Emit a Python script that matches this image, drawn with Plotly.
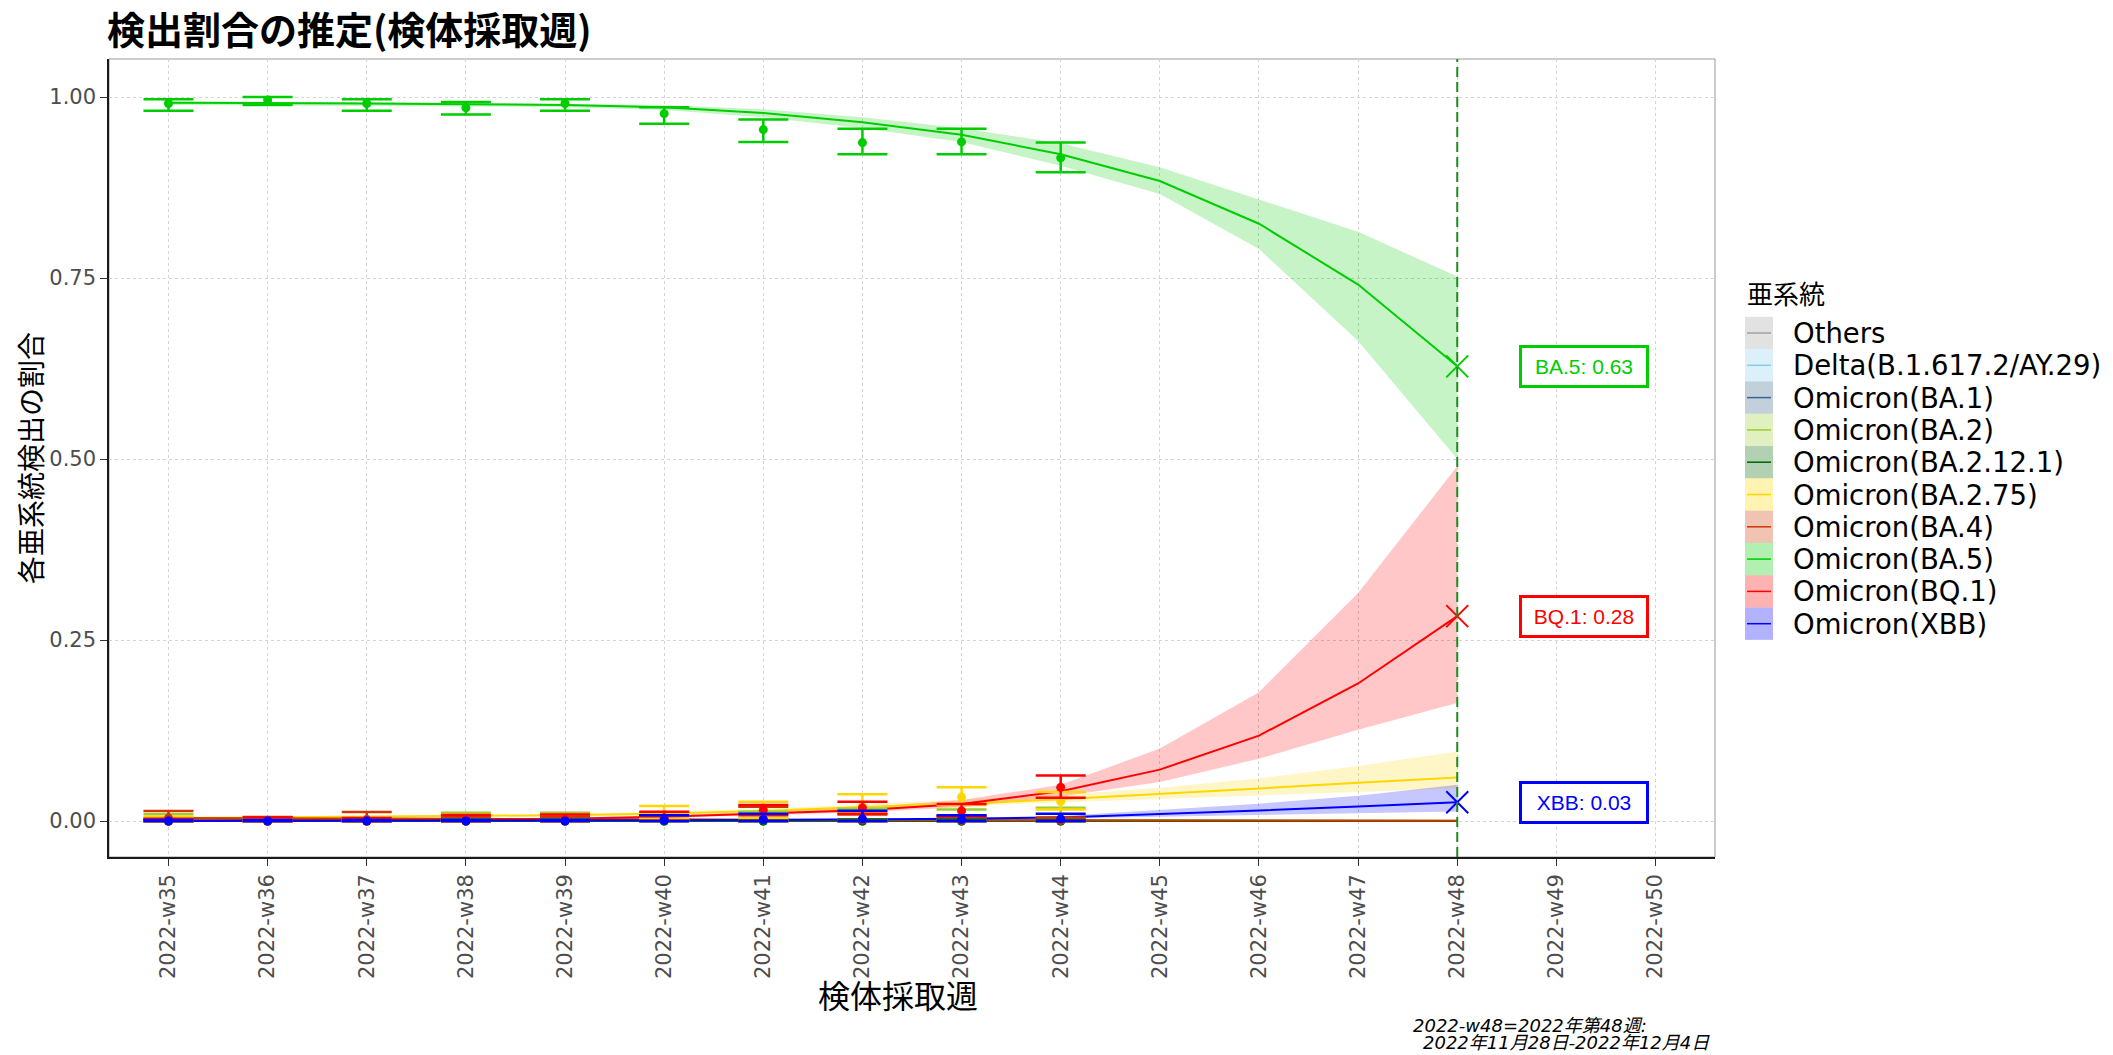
import plotly.graph_objects as go

# ---------------- data ----------------
week_nums = [35, 36, 37, 38, 39, 40, 41, 42, 43, 44, 45, 46, 47, 48, 49, 50]
week_labels = ["2022-w35", "2022-w36", "2022-w37", "2022-w38", "2022-w39", "2022-w40",
               "2022-w41", "2022-w42", "2022-w43", "2022-w44", "2022-w45", "2022-w46",
               "2022-w47", "2022-w48", "2022-w49", "2022-w50"]
fit_weeks = [35, 36, 37, 38, 39, 40, 41, 42, 43, 44, 45, 46, 47, 48]
obs_weeks = [35, 36, 37, 38, 39, 40, 41, 42, 43, 44]
current_week = 48

series_names = ["Others", "Delta(B.1.617.2/AY.29)", "Omicron(BA.1)", "Omicron(BA.2)",
                "Omicron(BA.2.12.1)", "Omicron(BA.2.75)", "Omicron(BA.4)", "Omicron(BA.5)",
                "Omicron(BQ.1)", "Omicron(XBB)"]
series_colors = ["#A0A0A0", "#87CEEB", "#36648B", "#9ACD32", "#006400",
                 "#FFD700", "#CD3700", "#00CD00", "#FF0000", "#0000FF"]

# fitted proportion (line) and its interval (ribbon), weeks 35..48
fit_others = [0.001, 0.001, 0.001, 0.0008, 0.0006, 0.0005, 0.0004, 0.0003, 0.0002, 0.0002, 0.0001, 0.0001, 0.0001, 0.0001]
lo_others = [0.0005, 0.0005, 0.0005, 0.0004, 0.0003, 0.0002, 0.0002, 0.0001, 0.0001, 0.0001, 0.0, 0.0, 0.0, 0.0]
hi_others = [0.0015, 0.0015, 0.0015, 0.0012, 0.001, 0.0009, 0.0008, 0.0006, 0.0005, 0.0005, 0.0004, 0.0004, 0.0004, 0.0004]

fit_delta = [0.0, 0.0, 0.0, 0.0, 0.0, 0.0, 0.0, 0.0, 0.0, 0.0, 0.0, 0.0, 0.0, 0.0]
lo_delta = [0.0, 0.0, 0.0, 0.0, 0.0, 0.0, 0.0, 0.0, 0.0, 0.0, 0.0, 0.0, 0.0, 0.0]
hi_delta = [0.0002, 0.0002, 0.0002, 0.0002, 0.0002, 0.0002, 0.0002, 0.0002, 0.0002, 0.0002, 0.0002, 0.0002, 0.0002, 0.0002]

fit_ba1 = [0.0, 0.0, 0.0, 0.0, 0.0, 0.0, 0.0, 0.0, 0.0, 0.0, 0.0, 0.0, 0.0, 0.0]
lo_ba1 = [0.0, 0.0, 0.0, 0.0, 0.0, 0.0, 0.0, 0.0, 0.0, 0.0, 0.0, 0.0, 0.0, 0.0]
hi_ba1 = [0.0002, 0.0002, 0.0002, 0.0002, 0.0002, 0.0002, 0.0002, 0.0002, 0.0002, 0.0002, 0.0002, 0.0002, 0.0002, 0.0002]

fit_ba2 = [0.004, 0.0035, 0.003, 0.0028, 0.0025, 0.002, 0.0018, 0.0015, 0.0012, 0.001, 0.0008, 0.0006, 0.0005, 0.0004]
lo_ba2 = [0.003, 0.0026, 0.0022, 0.002, 0.0017, 0.0013, 0.0011, 0.0009, 0.0007, 0.0005, 0.0004, 0.0003, 0.0002, 0.0001]
hi_ba2 = [0.005, 0.0045, 0.004, 0.0037, 0.0034, 0.003, 0.0027, 0.0024, 0.0021, 0.0019, 0.0017, 0.0015, 0.0014, 0.0013]

fit_ba2121 = [0.0006, 0.0005, 0.0005, 0.0004, 0.0004, 0.0003, 0.0003, 0.0002, 0.0002, 0.0002, 0.0001, 0.0001, 0.0001, 0.0001]
lo_ba2121 = [0.0003, 0.0002, 0.0002, 0.0002, 0.0002, 0.0001, 0.0001, 0.0001, 0.0001, 0.0, 0.0, 0.0, 0.0, 0.0]
hi_ba2121 = [0.001, 0.0009, 0.0009, 0.0008, 0.0007, 0.0006, 0.0006, 0.0005, 0.0005, 0.0005, 0.0004, 0.0004, 0.0004, 0.0004]

fit_ba275 = [0.004, 0.005, 0.006, 0.007, 0.008, 0.0105, 0.014, 0.0195, 0.024, 0.030, 0.037, 0.045, 0.053, 0.060]
lo_ba275 = [0.003, 0.004, 0.0045, 0.0055, 0.0065, 0.008, 0.011, 0.016, 0.020, 0.025, 0.030, 0.035, 0.040, 0.045]
hi_ba275 = [0.005, 0.006, 0.0075, 0.0085, 0.010, 0.013, 0.017, 0.023, 0.029, 0.036, 0.046, 0.059, 0.076, 0.096]

fit_ba4 = [0.004, 0.0035, 0.003, 0.0027, 0.0024, 0.002, 0.0017, 0.0015, 0.0013, 0.001, 0.0008, 0.0006, 0.0005, 0.0004]
lo_ba4 = [0.003, 0.0026, 0.0022, 0.0019, 0.0016, 0.0013, 0.001, 0.0008, 0.0006, 0.0005, 0.0003, 0.0002, 0.0001, 0.0001]
hi_ba4 = [0.005, 0.0045, 0.004, 0.0036, 0.0033, 0.003, 0.0027, 0.0024, 0.0022, 0.002, 0.0018, 0.0016, 0.0015, 0.0014]

fit_ba5 = [0.992, 0.992, 0.991, 0.990, 0.989, 0.986, 0.978, 0.965, 0.948, 0.921, 0.884, 0.825, 0.741, 0.628]
lo_ba5 = [0.989, 0.989, 0.988, 0.987, 0.986, 0.982, 0.972, 0.957, 0.938, 0.905, 0.866, 0.790, 0.663, 0.500]
hi_ba5 = [0.994, 0.994, 0.993, 0.992, 0.991, 0.989, 0.983, 0.972, 0.957, 0.936, 0.903, 0.858, 0.814, 0.752]

fit_bq1 = [0.0003, 0.0005, 0.001, 0.002, 0.003, 0.006, 0.010, 0.015, 0.0235, 0.041, 0.071, 0.118, 0.190, 0.283]
lo_bq1 = [0.0001, 0.0002, 0.0005, 0.0012, 0.002, 0.0045, 0.008, 0.012, 0.019, 0.034, 0.054, 0.086, 0.126, 0.163]
hi_bq1 = [0.0006, 0.001, 0.0018, 0.003, 0.0045, 0.008, 0.0125, 0.019, 0.029, 0.050, 0.100, 0.178, 0.315, 0.490]

fit_xbb = [0.0001, 0.0001, 0.0001, 0.0002, 0.0003, 0.001, 0.0015, 0.002, 0.003, 0.005, 0.0095, 0.0145, 0.020, 0.026]
lo_xbb = [0.0, 0.0, 0.0, 0.0, 0.0001, 0.0005, 0.001, 0.0013, 0.002, 0.0035, 0.006, 0.009, 0.011, 0.013]
hi_xbb = [0.0003, 0.0003, 0.0004, 0.0005, 0.0007, 0.0015, 0.0022, 0.003, 0.0045, 0.007, 0.015, 0.024, 0.035, 0.050]

# observed proportion with interval, weeks 35..44
obs_others = [0.001, 0.0, 0.0, 0.0, 0.001, 0.0, 0.0, 0.0, 0.0, 0.0]
obs_lo_others = [0.0, 0.0, 0.0, 0.0, 0.0, 0.0, 0.0, 0.0, 0.0, 0.0]
obs_hi_others = [0.004, 0.003, 0.003, 0.003, 0.004, 0.002, 0.003, 0.002, 0.002, 0.002]

obs_delta = [0.0, 0.0, 0.0, 0.0, 0.0, 0.0, 0.0, 0.0, 0.0, 0.0]
obs_lo_delta = [0.0, 0.0, 0.0, 0.0, 0.0, 0.0, 0.0, 0.0, 0.0, 0.0]
obs_hi_delta = [0.001, 0.001, 0.001, 0.001, 0.001, 0.001, 0.001, 0.001, 0.001, 0.001]

obs_ba1 = [0.0, 0.0, 0.0, 0.0, 0.0, 0.0, 0.0, 0.0, 0.0, 0.0]
obs_lo_ba1 = [0.0, 0.0, 0.0, 0.0, 0.0, 0.0, 0.0, 0.0, 0.0, 0.0]
obs_hi_ba1 = [0.001, 0.001, 0.001, 0.001, 0.001, 0.001, 0.001, 0.001, 0.001, 0.001]

obs_ba2 = [0.003, 0.0, 0.0, 0.002, 0.002, 0.002, 0.003, 0.002, 0.002, 0.001]
obs_lo_ba2 = [0.0, 0.0, 0.0, 0.0, 0.0, 0.0, 0.0, 0.0, 0.0, 0.0]
obs_hi_ba2 = [0.0092, 0.004, 0.004, 0.0115, 0.0115, 0.008, 0.0129, 0.017, 0.016, 0.0184]

obs_ba2121 = [0.0, 0.0, 0.001, 0.0, 0.0, 0.0, 0.0, 0.0, 0.0, 0.0]
obs_lo_ba2121 = [0.0, 0.0, 0.0, 0.0, 0.0, 0.0, 0.0, 0.0, 0.0, 0.0]
obs_hi_ba2121 = [0.002, 0.002, 0.003, 0.002, 0.002, 0.002, 0.002, 0.002, 0.002, 0.002]

obs_ba275 = [0.002, 0.001, 0.001, 0.003, 0.003, 0.009, 0.010, 0.020, 0.033, 0.027]
obs_lo_ba275 = [0.0, 0.0, 0.0, 0.0, 0.0, 0.003, 0.004, 0.011, 0.022, 0.016]
obs_hi_ba275 = [0.006, 0.004, 0.004, 0.009, 0.009, 0.0207, 0.0267, 0.0368, 0.0465, 0.040]

obs_ba4 = [0.004, 0.001, 0.002, 0.001, 0.002, 0.002, 0.003, 0.002, 0.001, 0.001]
obs_lo_ba4 = [0.0, 0.0, 0.0, 0.0, 0.0, 0.0, 0.0, 0.0, 0.0, 0.0]
obs_hi_ba4 = [0.0138, 0.0055, 0.0124, 0.006, 0.006, 0.007, 0.0197, 0.009, 0.006, 0.005]

obs_ba5 = [0.991, 0.996, 0.991, 0.985, 0.991, 0.977, 0.955, 0.937, 0.938, 0.916]
obs_lo_ba5 = [0.981, 0.989, 0.981, 0.976, 0.981, 0.963, 0.938, 0.921, 0.921, 0.896]
obs_hi_ba5 = [0.997, 1.000, 0.997, 0.993, 0.997, 0.986, 0.969, 0.956, 0.956, 0.937]

obs_bq1 = [0.0, 0.0, 0.0, 0.002, 0.002, 0.004, 0.015, 0.018, 0.014, 0.0465]
obs_lo_bq1 = [0.0, 0.0, 0.0, 0.0, 0.0, 0.0005, 0.008, 0.010, 0.007, 0.032]
obs_hi_bq1 = [0.003, 0.005, 0.004, 0.0083, 0.009, 0.0129, 0.022, 0.0267, 0.0235, 0.063]

obs_xbb = [0.0, 0.0, 0.0, 0.0, 0.0, 0.001, 0.002, 0.003, 0.002, 0.003]
obs_lo_xbb = [0.0, 0.0, 0.0, 0.0, 0.0, 0.0, 0.0, 0.0, 0.0, 0.0]
obs_hi_xbb = [0.0015, 0.0015, 0.0015, 0.0015, 0.0015, 0.008, 0.010, 0.0142, 0.008, 0.010]

# labelled series at the current week
label_series = ["BA.5", "BQ.1", "XBB"]

# ---------------- assembly ----------------
fits = [fit_others, fit_delta, fit_ba1, fit_ba2, fit_ba2121, fit_ba275, fit_ba4, fit_ba5, fit_bq1, fit_xbb]
los = [lo_others, lo_delta, lo_ba1, lo_ba2, lo_ba2121, lo_ba275, lo_ba4, lo_ba5, lo_bq1, lo_xbb]
his = [hi_others, hi_delta, hi_ba1, hi_ba2, hi_ba2121, hi_ba275, hi_ba4, hi_ba5, hi_bq1, hi_xbb]
obs = [obs_others, obs_delta, obs_ba1, obs_ba2, obs_ba2121, obs_ba275, obs_ba4, obs_ba5, obs_bq1, obs_xbb]
obs_los = [obs_lo_others, obs_lo_delta, obs_lo_ba1, obs_lo_ba2, obs_lo_ba2121, obs_lo_ba275, obs_lo_ba4, obs_lo_ba5, obs_lo_bq1, obs_lo_xbb]
obs_his = [obs_hi_others, obs_hi_delta, obs_hi_ba1, obs_hi_ba2, obs_hi_ba2121, obs_hi_ba275, obs_hi_ba4, obs_hi_ba5, obs_hi_bq1, obs_hi_xbb]

W, H = 2113, 1055
PL, PR, PT, PB = 109, 1715, 59, 857


def px(x):
    return (x - PL) / (PR - PL)


def py(y):
    return (PB - y) / (PB - PT)


def rgba(hex_color, a):
    h = hex_color.lstrip("#")
    r, g, b = int(h[0:2], 16), int(h[2:4], 16), int(h[4:6], 16)
    return f"rgba({r},{g},{b},{a})"


fig = go.Figure()

# ribbons
for name, col, lo, hi in zip(series_names, series_colors, los, his):
    fig.add_trace(go.Scatter(
        x=fit_weeks + fit_weeks[::-1], y=hi + lo[::-1],
        fill="toself", fillcolor=rgba(col, 0.22), line=dict(width=0),
        mode="lines", hoverinfo="skip", showlegend=False))

# fitted lines
for name, col, f in zip(series_names, series_colors, fits):
    fig.add_trace(go.Scatter(x=fit_weeks, y=f, mode="lines", name=name,
                             line=dict(color=col, width=2), showlegend=False))

# observed points with error bars
for name, col, o, ol, oh in zip(series_names, series_colors, obs, obs_los, obs_his):
    fig.add_trace(go.Scatter(
        x=obs_weeks, y=o, mode="markers", name=name, showlegend=False,
        marker=dict(color=col, size=9),
        error_y=dict(type="data", symmetric=False,
                     array=[h - v for h, v in zip(oh, o)],
                     arrayminus=[v - l for v, l in zip(o, ol)],
                     color=col, thickness=2.5, width=25)))

# current-week markers and labels
idx_cur = fit_weeks.index(current_week)
for short in label_series:
    i = series_names.index(f"Omicron({short})")
    col = series_colors[i]
    val = fits[i][idx_cur]
    fig.add_trace(go.Scatter(x=[current_week], y=[val], mode="markers", showlegend=False,
                             marker=dict(symbol="x-thin", size=22, line=dict(color=col, width=2))))
    fig.add_annotation(x=current_week + 0.62, y=val, xref="x", yref="y",
                       xanchor="left", yanchor="middle", showarrow=False,
                       text=f"{short}: {val:.2f}",
                       font=dict(family="Liberation Sans, Arial", size=21, color=col),
                       bgcolor="white", bordercolor=col, borderwidth=3, borderpad=6,
                       width=112, height=25)

# current week vertical dashed line
fig.add_shape(type="line", xref="x", yref="paper", x0=current_week, x1=current_week,
              y0=0, y1=1, line=dict(color="#1E8B1E", width=2, dash="10px,5px"), layer="above")

# panel border (top/right grey)
fig.add_shape(type="rect", xref="paper", yref="paper", x0=0, x1=1, y0=0, y1=1,
              line=dict(color="#9A9A9A", width=1), layer="below")

# ---------------- manual legend ----------------
fig.add_annotation(xref="paper", yref="paper", x=px(1745), y=py(292), xanchor="left",
                   yanchor="middle", showarrow=False, text="亜系統",
                   font=dict(family="Noto Sans CJK JP", size=26, color="black"))
row0, row_h = 333, 32.3
for k, (name, col) in enumerate(zip(series_names, series_colors)):
    cy = row0 + k * row_h
    fig.add_shape(type="rect", xref="paper", yref="paper",
                  x0=px(1745), x1=px(1773), y0=py(cy + row_h / 2), y1=py(cy - row_h / 2),
                  fillcolor=rgba(col, 0.3), line=dict(width=0))
    fig.add_shape(type="line", xref="paper", yref="paper",
                  x0=px(1747), x1=px(1771), y0=py(cy), y1=py(cy),
                  line=dict(color=col, width=1.5))
    fig.add_annotation(xref="paper", yref="paper", x=px(1791), y=py(cy), xanchor="left",
                       yanchor="middle", showarrow=False, text=name,
                       font=dict(family="DejaVu Sans", size=27.5, color="black"))

# axis titles
fig.add_annotation(xref="paper", yref="paper", x=px(898), y=py(994), xanchor="center",
                   yanchor="middle", showarrow=False, text="検体採取週",
                   font=dict(family="Noto Sans CJK JP", size=32, color="black"))
fig.add_annotation(xref="paper", yref="paper", x=px(30), y=0.5, xanchor="center",
                   yanchor="middle", showarrow=False, text="各亜系統検出の割合", textangle=-90,
                   font=dict(family="Noto Sans CJK JP", size=28, color="black"))

# caption
fig.add_annotation(xref="paper", yref="paper", x=px(1411), y=py(1025), xanchor="left",
                   yanchor="middle", showarrow=False, text="<i>2022-w48=2022年第48週:</i>",
                   font=dict(family="DejaVu Sans, Noto Sans CJK JP", size=18, color="black"))
fig.add_annotation(xref="paper", yref="paper", x=px(1421), y=py(1042), xanchor="left",
                   yanchor="middle", showarrow=False, text="<i>2022年11月28日-2022年12月4日</i>",
                   font=dict(family="DejaVu Sans, Noto Sans CJK JP", size=18, color="black"))

fig.update_layout(
    width=W, height=H, autosize=False,
    margin=dict(l=PL, r=W - PR, t=PT, b=H - PB),
    paper_bgcolor="white", plot_bgcolor="white",
    title=dict(text="<b>検出割合の推定(検体採取週)</b>", x=107 / W, xanchor="left",
               y=1 - 31 / H, yanchor="middle", xref="container", yref="container",
               font=dict(family="Noto Sans CJK JP", size=38, color="black")),
    showlegend=False,
    xaxis=dict(range=[34.4, 50.6], tickmode="array", tickvals=week_nums, ticktext=week_labels,
               tickangle=-90, ticks="outside", ticklen=7, tickcolor="#333333",
               tickfont=dict(family="DejaVu Sans", size=21, color="#4D4D4D"),
               showgrid=True, gridcolor="#D4D4D4", griddash="dot", gridwidth=1,
               showline=True, linecolor="#1A1A1A", linewidth=1.5, zeroline=False),
    yaxis=dict(range=[-0.0497, 1.0525], tickmode="array",
               tickvals=[0, 0.25, 0.5, 0.75, 1.0],
               ticktext=["0.00", "0.25", "0.50", "0.75", "1.00"],
               ticks="outside", ticklen=7, tickcolor="#333333",
               tickfont=dict(family="DejaVu Sans", size=21, color="#4D4D4D"),
               showgrid=True, gridcolor="#D4D4D4", griddash="dot", gridwidth=1,
               showline=True, linecolor="#1A1A1A", linewidth=1.5, zeroline=False),
)

fig.write_html("out.html", config={"displayModeBar": False},
               post_script="document.body.style.margin='0';document.body.style.overflow='hidden';")
